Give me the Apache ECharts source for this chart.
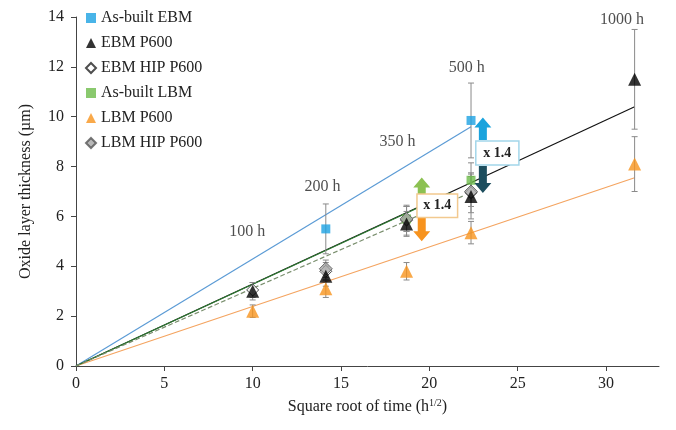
<!DOCTYPE html>
<html>
<head>
<meta charset="UTF-8">
<title></title>
<script src="https://cdn.jsdelivr.net/npm/echarts@6/dist/echarts.min.js"></script>
<style>
  html, body { margin: 0; padding: 0; background: #fff; }
  #main { width: 676px; height: 430px; }
</style>
</head>
<body>
<div id="main"></div>
<script>
// square root of exposure time (h^1/2)
var tBuiltEBM = [14.14, 22.36];
var tEBM = [10, 14.14, 18.71, 22.36, 31.62];
var tHIPEBM = [10, 14.14, 18.71, 22.36];
var tBuiltLBM = [18.71, 22.36];
var tLBM = [10, 14.14, 18.71, 22.36, 31.62];
var tHIPLBM = [14.14, 18.71, 22.36];
var xTicks = [0, 5, 10, 15, 20, 25, 30];

// oxide thickness (µm) and error half-widths
var builtEBM = [5.5, 9.85];
var builtEBMErr = [1.0, 1.5];
var ebmP600 = [3.0, 3.6, 5.7, 6.8, 11.5];
var ebmP600Err = [0.35, 0.4, 0.5, 0.9, 2.0];
var ebmHIP = [3.05, 3.8, 5.85, 6.95];
var ebmHIPErr = [0.3, 0.35, 0.6, 0.8];
var builtLBM = [5.9, 7.45];
var builtLBMErr = [0.5, 0.7];
var lbmP600 = [2.2, 3.1, 3.8, 5.35, 8.1];
var lbmP600Err = [0.25, 0.35, 0.35, 0.45, 1.1];
var lbmHIP = [3.9, 5.9, 7.0];
var lbmHIPErr = [0.35, 0.5, 0.6];

// linear fits through the origin (end points)
var fitBuiltEBM = [[0, 0], [22.36, 9.6]];
var fitEBM = [[0, 0], [31.62, 10.4]];
var fitLBM = [[0, 0], [31.62, 7.55]];
var fitBuiltLBM = [[0, 0], [21.2, 6.95]];
var fitHIP = [[0, 0], [22.0, 6.85]];

// time labels
var hourNames = ['100 h', '200 h', '350 h', '500 h', '1000 h'];
var hourPos = [[9.7, 5.37], [13.95, 7.18], [18.2, 8.98], [22.12, 11.95], [30.9, 13.88]];

// "x 1.4" boxes: [x0, y0, x1, y1]
var boxes = [[19.3, 6.9, 21.6, 5.96], [22.63, 9.03, 25.07, 8.06]];
// arrows: [x, yBase, yTip, colour]
var arrows = [
  [19.57, 6.42, 7.56, '#8cc152'],
  [19.57, 6.06, 5.0, '#f7931e'],
  [23.03, 9.07, 9.97, '#1aa3dd'],
  [23.03, 8.02, 6.94, '#1d4e5e']
];

var serif = 'Liberation Serif';

function pairs(xs, ys) {
  return xs.map(function (x, i) { return [x, ys[i]]; });
}
function errs(xs, ys, es) {
  return xs.map(function (x, i) { return [x, ys[i] - es[i], ys[i] + es[i]]; });
}

var errData = [].concat(
  errs(tBuiltEBM, builtEBM, builtEBMErr),
  errs(tEBM, ebmP600, ebmP600Err),
  errs(tHIPEBM, ebmHIP, ebmHIPErr),
  errs(tBuiltLBM, builtLBM, builtLBMErr),
  errs(tLBM, lbmP600, lbmP600Err),
  errs(tHIPLBM, lbmHIP, lbmHIPErr)
);

function fitLine(data, color, type, z) {
  return {
    type: 'line', data: data, symbol: 'none', silent: true, z: z || 2,
    lineStyle: { color: color, width: 1.2, type: type || 'solid' }
  };
}

var chart = echarts.init(document.getElementById('main'));
chart.setOption({
  animation: false,
  backgroundColor: '#fff',
  textStyle: { fontFamily: serif },
  grid: { left: 76, right: 17, top: 17, bottom: 64 },
  legend: {
    orient: 'vertical', left: 80, top: 5, itemGap: 9,
    itemWidth: 10, itemHeight: 10,
    textStyle: { fontFamily: serif, fontSize: 16, color: '#222' },
    data: ['As-built EBM', 'EBM P600', 'EBM HIP P600', 'As-built LBM', 'LBM P600', 'LBM HIP P600']
  },
  xAxis: {
    type: 'value', min: 0, max: 33, interval: 5,
    name: 'Square root of time (h{s|1/2})', nameLocation: 'middle', nameGap: 32,
    nameTextStyle: { fontFamily: serif, fontSize: 16, color: '#222', rich: { s: { fontSize: 10, verticalAlign: 'top', padding: [0, 0, 8, 0] } } },
    axisLine: { lineStyle: { color: '#444' } },
    axisTick: { inside: false, length: 5, lineStyle: { color: '#444' }, customValues: xTicks },
    axisLabel: { fontFamily: serif, fontSize: 16, color: '#222', margin: 10, customValues: xTicks },
    splitLine: { show: false }
  },
  yAxis: {
    type: 'value', min: 0, max: 14, interval: 2,
    name: 'Oxide layer thickness (µm)', nameLocation: 'middle', nameGap: 42,
    nameTextStyle: { fontFamily: serif, fontSize: 16, color: '#222' },
    axisLine: { show: true, lineStyle: { color: '#444' } },
    axisTick: { show: true, length: 5, lineStyle: { color: '#444' } },
    axisLabel: { fontFamily: serif, fontSize: 16, color: '#222', margin: 12 },
    splitLine: { show: false }
  },
  series: [
    fitLine(fitBuiltEBM, '#5b9bd5'),
    fitLine(fitEBM, '#111'),
    fitLine(fitLBM, '#f4a460'),
    fitLine(fitBuiltLBM, '#2e7d32'),
    fitLine(fitHIP, '#7a8f6e', 'dashed'),
    {
      type: 'custom', silent: true, z: 3, data: errData,
      renderItem: function (params, api) {
        var lo = api.coord([api.value(0), api.value(1)]);
        var hi = api.coord([api.value(0), api.value(2)]);
        var c = 3;
        var st = { stroke: '#8a8a8a', lineWidth: 1 };
        return { type: 'group', children: [
          { type: 'line', shape: { x1: lo[0], y1: lo[1], x2: hi[0], y2: hi[1] }, style: st },
          { type: 'line', shape: { x1: lo[0] - c, y1: lo[1], x2: lo[0] + c, y2: lo[1] }, style: st },
          { type: 'line', shape: { x1: hi[0] - c, y1: hi[1], x2: hi[0] + c, y2: hi[1] }, style: st }
        ] };
      }
    },
    { name: 'As-built EBM', type: 'scatter', z: 5, data: pairs(tBuiltEBM, builtEBM),
      symbol: 'rect', symbolSize: 9, itemStyle: { color: '#1ba1e2' } },
    { name: 'EBM HIP P600', type: 'scatter', z: 5, data: pairs(tHIPEBM, ebmHIP),
      symbol: 'diamond', symbolSize: 12, itemStyle: { color: '#fff', borderColor: '#222', borderWidth: 1 } },
    { name: 'As-built LBM', type: 'scatter', z: 5, data: pairs(tBuiltLBM, builtLBM),
      symbol: 'rect', symbolSize: 9, itemStyle: { color: '#6dbb4a' } },
    { name: 'LBM HIP P600', type: 'scatter', z: 6, data: pairs(tHIPLBM, lbmHIP),
      symbol: 'diamond', symbolSize: 13, itemStyle: { color: '#a6a6a6', borderColor: '#555', borderWidth: 1 } },
    { name: 'EBM P600', type: 'scatter', z: 7, data: pairs(tEBM, ebmP600),
      symbol: 'triangle', symbolSize: 13, itemStyle: { color: '#000' } },
    { name: 'LBM P600', type: 'scatter', z: 7, data: pairs(tLBM, lbmP600),
      symbol: 'triangle', symbolSize: 13, itemStyle: { color: '#f7941d' } },
    {
      type: 'scatter', silent: true, z: 8, symbolSize: 0,
      data: hourPos.map(function (p, i) { return { value: p, name: hourNames[i] }; }),
      label: { show: true, position: 'inside', formatter: '{b}', fontFamily: serif, fontSize: 16, color: '#222' }
    },
    {
      type: 'custom', silent: true, z: 9, data: arrows,
      renderItem: function (params, api) {
        var base = api.coord([api.value(0), api.value(1)]);
        var tip = api.coord([api.value(0), api.value(2)]);
        var dir = tip[1] < base[1] ? -1 : 1;
        var x = base[0], hw = 8.5, sw = 4, hl = 10;
        var neck = tip[1] - dir * hl;
        var pts = [
          [x - sw, base[1]], [x - sw, neck], [x - hw, neck], [x, tip[1]],
          [x + hw, neck], [x + sw, neck], [x + sw, base[1]]
        ];
        return { type: 'polygon', shape: { points: pts }, style: { fill: arrows[params.dataIndex][3] } };
      }
    },
    {
      type: 'custom', silent: true, z: 10, data: boxes,
      renderItem: function (params, api) {
        var a = api.coord([api.value(0), api.value(1)]);
        var b = api.coord([api.value(2), api.value(3)]);
        var border = params.dataIndex === 0 ? '#f2c98f' : '#a3d6ea';
        return { type: 'group', children: [
          { type: 'rect', shape: { x: a[0], y: a[1], width: b[0] - a[0], height: b[1] - a[1] },
            style: { fill: '#fff', stroke: border, lineWidth: 1.5 } },
          { type: 'text', style: { x: (a[0] + b[0]) / 2, y: (a[1] + b[1]) / 2, text: 'x 1.4',
            align: 'center', verticalAlign: 'middle', font: 'bold 14px "Liberation Serif"', fill: '#222' } }
        ] };
      }
    }
  ]
});
</script>
</body>
</html>
